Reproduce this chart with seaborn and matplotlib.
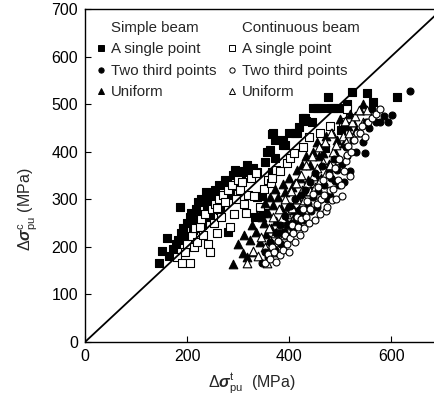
import matplotlib
matplotlib.use("Agg")
import matplotlib.pyplot as plt
from matplotlib.lines import Line2D
import seaborn as sns
import pandas as pd

# Simple beam, a single point (filled squares)
ss_x = [145,151,161,165,172,178,182,186,188,192,195,200,205,208,212,215,218,221,225,228,230,232,237,240,243,246,250,255,258,262,265,270,274,278,280,285,290,294,298,305,312,318,323,330,333,337,337,347,349,352,357,362,367,367,368,372,372,388,388,392,400,412,415,420,427,431,434,445,447,455,462,470,476,480,488,495,502,505,513,523,553,564,611]
ss_y = [166,191,218,180,195,205,214,284,230,240,222,250,262,271,235,252,280,294,260,300,245,270,315,288,300,262,305,320,290,330,278,300,340,334,231,310,352,361,328,345,360,372,357,365,263,357,305,307,271,378,399,404,437,357,439,386,424,424,415,415,440,439,439,452,470,470,465,462,491,491,491,407,514,491,491,491,445,491,500,525,523,504,514]

# Continuous beam, a single point (open squares)
cs_x = [180,190,196,200,206,210,214,216,220,225,228,232,236,241,245,248,252,255,259,259,263,266,270,275,280,284,288,292,296,300,303,308,312,316,320,325,331,336,343,351,358,365,367,374,382,395,402,410,427,440,461,480,506,513,520]
cs_y = [179,166,190,205,166,222,200,240,210,242,258,225,270,206,189,280,250,290,229,281,300,262,310,295,320,242,330,270,300,340,320,336,290,271,310,345,307,356,284,321,340,334,344,362,359,376,386,398,410,430,439,455,462,489,470]

# Simple beam, uniform (filled triangles)
st_x = [290,300,310,312,318,323,327,330,335,338,343,347,350,352,355,359,362,365,368,372,375,378,380,384,388,390,392,398,400,405,410,412,415,418,421,425,428,434,438,441,445,447,452,455,458,462,466,472,478,485,490,494,500,508,515,520,525,532,539,545]
st_y = [164,205,187,225,178,214,245,190,232,268,210,263,250,292,228,271,305,240,288,322,255,305,232,282,332,262,315,285,345,326,278,334,362,300,344,372,318,392,340,372,318,400,352,420,390,345,397,432,375,440,400,424,468,418,455,480,462,445,487,500]

# Continuous beam, uniform (open triangles)
ct_x = [317,330,340,345,352,357,360,362,366,368,373,376,380,383,386,390,393,395,400,403,405,410,413,415,420,423,425,430,433,436,441,444,446,450,455,458,460,466,470,472,480,483,486,492,498,505,510,512,518,524,530,537,545,553]
ct_y = [166,192,180,220,200,166,240,215,190,262,230,210,280,245,260,225,300,270,245,318,282,262,335,300,280,352,320,298,372,335,318,390,350,325,365,410,340,378,420,355,372,440,400,415,382,432,465,420,440,462,475,487,462,487]

# Simple beam, two third points (filled circles)
sc_x = [347,352,358,362,367,372,375,378,382,385,390,392,395,400,402,405,408,412,414,418,420,424,426,430,432,437,441,443,446,450,454,457,462,465,468,474,478,480,482,488,490,493,498,503,508,512,514,520,526,532,538,544,549,551,556,562,570,578,586,594,601,637]
sc_y = [166,190,178,210,200,193,230,212,245,205,232,265,245,222,285,250,238,300,262,245,278,310,270,256,320,290,336,275,305,355,284,318,300,370,330,300,355,306,344,385,338,362,330,375,336,410,392,360,425,400,440,420,397,462,450,489,462,462,475,462,477,527]

# Continuous beam, two third points (open circles)
cc_x = [353,358,362,366,370,375,378,383,388,392,395,400,402,405,408,412,415,418,422,424,428,430,434,436,440,442,446,451,454,456,460,462,466,468,472,474,478,480,484,486,490,492,496,498,502,504,508,512,514,516,520,522,528,534,539,543,548,555,562,570,578]
cc_y = [166,185,175,200,190,168,212,182,193,225,205,190,218,245,230,210,262,242,225,258,280,240,262,296,250,280,312,256,290,326,270,300,340,310,275,284,352,320,298,321,365,300,340,385,330,307,360,380,393,412,350,400,425,440,439,455,430,462,470,480,489]

x_ticks = [0, 200, 400, 600]
y_ticks = [0, 100, 200, 300, 400, 500, 600, 700]
col_titles = ["Simple beam", "Continuous beam"]
load_labels = ["A single point", "Two third points", "Uniform"]

sns.set_style("ticks")
plt.rcParams['font.family'] = ['Liberation Sans', 'DejaVu Sans']
plt.rcParams['mathtext.fontset'] = 'custom'
plt.rcParams['mathtext.rm'] = 'Liberation Sans'
plt.rcParams['mathtext.it'] = 'Liberation Sans:italic'
plt.rcParams['mathtext.bf'] = 'Liberation Sans:bold'
plt.rcParams['mathtext.bfit'] = 'Liberation Sans:italic:bold'

fig = plt.figure(figsize=(4.35, 4.01), dpi=100)
ax = fig.add_axes([85/435, 59/401, 352/435, 333/401])

series = [
    (ss_x, ss_y, 's', 'black', 5.5),
    (cs_x, cs_y, 's', 'white', 5.5),
    (st_x, st_y, '^', 'black', 6.2),
    (ct_x, ct_y, '^', 'white', 6.2),
    (sc_x, sc_y, 'o', 'black', 5.0),
    (cc_x, cc_y, 'o', 'white', 5.0),
]
for xs, ys, m, fc, ms in series:
    df = pd.DataFrame({"x": xs, "y": ys})
    sns.scatterplot(data=df, x="x", y="y", ax=ax, marker=m, s=ms**2,
                    facecolor=fc, edgecolor='black', linewidth=0.8, zorder=3)

ax.plot([0, 700], [0, 700], color='black', lw=1.3, zorder=4)

ax.set_xlim(0, 690)
ax.set_ylim(0, 700)
ax.set_xticks(x_ticks)
ax.set_yticks(y_ticks)
ax.tick_params(direction='in', length=4, width=0.8, labelsize=11.5, colors='black', pad=5)
for sp in ['left', 'bottom', 'top']:
    ax.spines[sp].set_linewidth(1.0)
    ax.spines[sp].set_color('black')
ax.spines['right'].set_visible(False)

ax.set_xlabel(r'$\Delta\mathbfit{\sigma}^{\rm t}_{\rm pu}$  (MPa)', fontsize=11.5)
ax.set_ylabel(r'$\Delta\mathbfit{\sigma}^{\rm c}_{\rm pu}$ (MPa)', fontsize=11.5)
ax.xaxis.set_label_coords(0.474, -0.088)
ax.yaxis.set_label_coords(-0.13, 0.40)

def h(marker, fc, ms):
    return Line2D([], [], linestyle='none', marker=marker, markersize=ms,
                  markerfacecolor=fc, markeredgecolor='black', markeredgewidth=0.7)

blank = Line2D([], [], linestyle='none')
handles = [blank, h('s', 'black', 4), h('o', 'black', 3.8), h('^', 'black', 4.5),
           blank, h('s', 'white', 4), h('o', 'white', 3.8), h('^', 'white', 4.5)]
labels = [col_titles[0]] + load_labels + [col_titles[1]] + load_labels
ax.legend(handles, labels, ncol=2, loc='upper left', bbox_to_anchor=(0.015, 0.982),
          frameon=False, fontsize=10.8, handlelength=0.6, handletextpad=0.4,
          columnspacing=0.7, labelspacing=0.5, borderaxespad=0)

fig.savefig("out.png", dpi=100)
